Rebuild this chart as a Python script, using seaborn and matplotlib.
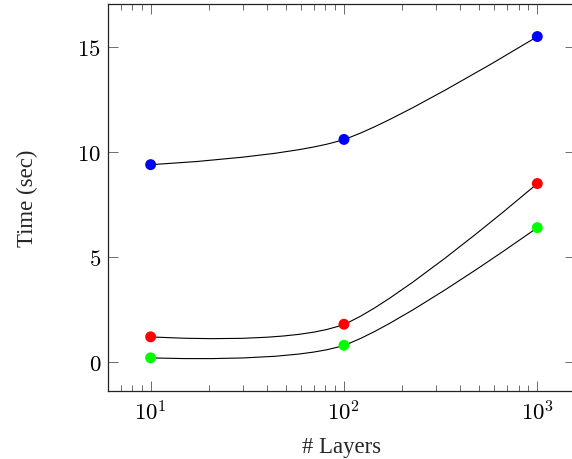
import matplotlib
matplotlib.use("Agg")
import matplotlib.pyplot as plt
import seaborn as sns
import pandas as pd
import numpy as np
from matplotlib.path import Path
from matplotlib.patches import PathPatch
from matplotlib.ticker import LogLocator, FixedLocator, FuncFormatter

layers = [10, 100, 1000]
time_blue = [9.4, 10.6, 15.5]
time_red = [1.2, 1.8, 8.5]
time_green = [0.2, 0.8, 6.4]
series_names = ["blue", "red", "green"]
series_colors = {"blue": "#0000ff", "red": "#ff0000", "green": "#00ff00"}
y_ticks = [0, 5, 10, 15]

df = pd.DataFrame({
    "layers": layers * 3,
    "time": time_blue + time_red + time_green,
    "series": [n for n in series_names for _ in layers],
})


def smooth_path(xs, ys, tension=0.14):
    # pgfplots-like "smooth": cubic bezier in (log x, y) space
    lx = np.log10(xs)
    y = np.asarray(ys, dtype=float)
    pts = np.column_stack([lx, y])
    n = len(pts)
    verts = [pts[0]]
    codes = [Path.MOVETO]
    for i in range(n - 1):
        p0, p1 = pts[i], pts[i + 1]
        c1 = p0 if i == 0 else p0 + tension * (pts[i + 1] - pts[i - 1])
        c2 = p1 if i == n - 2 else p1 - tension * (pts[i + 2] - pts[i])
        verts += [c1, c2, p1]
        codes += [Path.CURVE4] * 3
    verts = np.array(verts)
    verts[:, 0] = 10 ** verts[:, 0]
    return Path(verts, codes)


sns.set_theme(style="ticks")
plt.rcParams["font.family"] = ["Liberation Serif", "DejaVu Serif"]
plt.rcParams["mathtext.fontset"] = "cm"

fig = plt.figure(figsize=(5.72, 4.6), dpi=100)
ax = fig.add_axes([108 / 572, 1 - 392 / 460, (575 - 108) / 572, (392 - 5) / 460])

for name in series_names:
    sub = df[df["series"] == name]
    patch = PathPatch(smooth_path(sub["layers"].values, sub["time"].values),
                      facecolor="none", edgecolor="black", lw=0.8, zorder=2)
    ax.add_patch(patch)

sns.scatterplot(data=df, x="layers", y="time", hue="series", palette=series_colors,
                s=62, edgecolor="none", legend=False, zorder=3, ax=ax)

ax.set_xscale("log")
ax.set_xlim(10 ** 0.7795, 10 ** 3.195)
ax.set_ylim(-1.38, 17.05)

ax.xaxis.set_major_locator(FixedLocator(layers))
ax.xaxis.set_major_formatter(FuncFormatter(lambda v, p: f"$10^{{{int(round(np.log10(v)))}}}$"))
ax.xaxis.set_minor_locator(LogLocator(base=10, subs=np.arange(2, 10), numticks=20))
ax.yaxis.set_major_locator(FixedLocator(y_ticks))
ax.yaxis.set_major_formatter(FuncFormatter(lambda v, p: f"${v:g}$"))
ax.yaxis.set_minor_locator(FixedLocator([]))

ax.tick_params(which="both", direction="in", top=True, right=True, colors="#555555",
               labelcolor="black", labelsize=16.5)
ax.tick_params(which="major", length=7, width=0.6)
ax.tick_params(which="minor", length=4.3, width=0.6)
ax.tick_params(axis="x", which="major", pad=7)
ax.tick_params(axis="y", which="major", pad=5)
for sp in ax.spines.values():
    sp.set_linewidth(0.9)
    sp.set_color("#222222")

ax.set_xlabel("# Layers", fontsize=16.4, labelpad=8)
ax.set_ylabel("Time (sec)", fontsize=16.4, labelpad=28)

fig.savefig("out.png", dpi=100)
plt.close(fig)
